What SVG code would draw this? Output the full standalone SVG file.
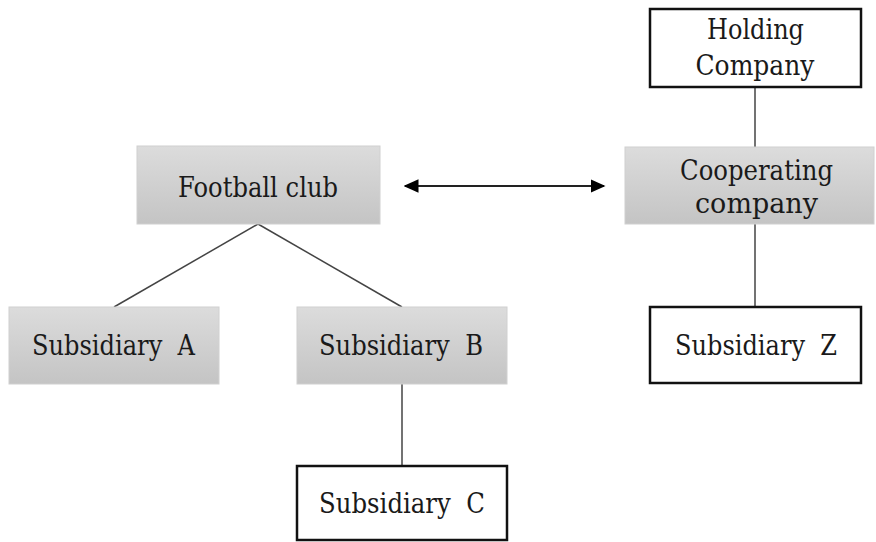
<svg xmlns="http://www.w3.org/2000/svg" width="876" height="542" viewBox="0 0 876 542">
<style>
.g{fill:url(#gr);stroke:#d0d0d0;stroke-width:1}
.w{fill:#fff;stroke:#111;stroke-width:2.5}
.t{font-family:"DejaVu Serif",serif;font-size:28px;fill:#1a1a1a;text-anchor:middle}
.c{stroke:#444;stroke-width:1.5;fill:none}
</style>
<defs>
<linearGradient id="gr" x1="0" y1="0" x2="0" y2="1">
<stop offset="0" stop-color="#dcdcdc"/>
<stop offset="1" stop-color="#c4c4c4"/>
</linearGradient>
<marker id="ah" viewBox="0 0 10 9" refX="9" refY="4.5" markerWidth="7.5" markerHeight="6.75" orient="auto-start-reverse">
<path d="M0,0L10,4.5L0,9Z" fill="#000"/>
</marker>
</defs>
<g id="connectors">
<path class="c" d="M258,224L114,307"/>
<path class="c" d="M258,224L402,307"/>
<path class="c" d="M402,384L402,466"/>
<path class="c" d="M755,87L755,147"/>
<path class="c" d="M755,224L755,307"/>
<path d="M405,186L604,186" stroke="#222" stroke-width="2" marker-start="url(#ah)" marker-end="url(#ah)"/>
</g>
<g id="football"><rect class="g" x="137" y="146" width="243" height="78"/><text class="t" x="258" y="197" textLength="160" lengthAdjust="spacingAndGlyphs">Football club</text></g>
<g id="holding"><rect class="w" x="650" y="9" width="211" height="78"/><text class="t" x="755.5" y="39" textLength="97" lengthAdjust="spacingAndGlyphs">Holding</text><text class="t" x="755" y="75" textLength="119" lengthAdjust="spacingAndGlyphs">Company</text></g>
<g id="cooperating"><rect class="g" x="625" y="147" width="249" height="77"/><text class="t" x="756.5" y="180" textLength="153" lengthAdjust="spacingAndGlyphs">Cooperating</text><text class="t" x="756.5" y="213" textLength="123" lengthAdjust="spacingAndGlyphs">company</text></g>
<g id="subA"><rect class="g" x="9" y="307" width="210" height="77"/><text class="t" x="113.5" y="355" xml:space="preserve" textLength="163" lengthAdjust="spacingAndGlyphs">Subsidiary  A</text></g>
<g id="subB"><rect class="g" x="297" y="307" width="210" height="77"/><text class="t" x="401" y="355" xml:space="preserve" textLength="164" lengthAdjust="spacingAndGlyphs">Subsidiary  B</text></g>
<g id="subC"><rect class="w" x="297" y="466" width="210" height="74"/><text class="t" x="402" y="513" xml:space="preserve" textLength="166" lengthAdjust="spacingAndGlyphs">Subsidiary  C</text></g>
<g id="subZ"><rect class="w" x="650" y="307" width="211" height="76"/><text class="t" x="756" y="355" xml:space="preserve" textLength="162" lengthAdjust="spacingAndGlyphs">Subsidiary  Z</text></g>
</svg>
